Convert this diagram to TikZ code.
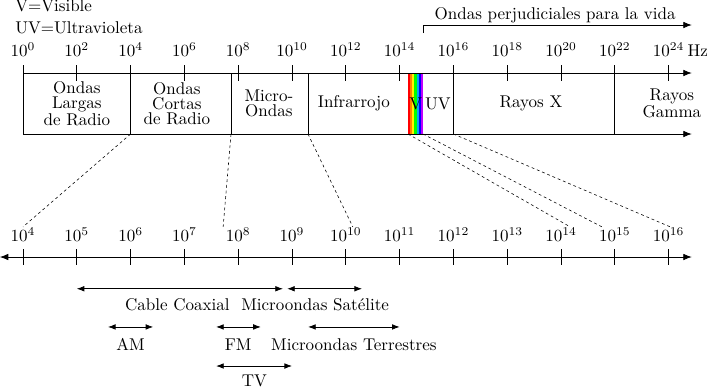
\documentclass[tikz,border=0pt]{standalone}
\usepackage{xcolor}
\usetikzlibrary{
    positioning,
    arrows.meta
}
\definecolor{violeta}{RGB}{190,0,255}
\tikzset{%
    eje/.style={%
        -{Latex[length=4.5pt,width=3.5pt]},
    },
    eje doble/.style={%
        {Latex[length=4.5pt,width=3.5pt]}-{Latex[length=4.5pt,width=3.5pt]},
    },
    rango/.style={%
        {Latex[length=4pt,width=3pt]}-{Latex[length=4pt,width=3pt]},
    },
    guia/.style={%
        dash pattern=on 1.5pt off 1.5pt,
        line width=0.3pt,
    },
    escala/.style={%
        anchor=base,
        inner sep=0pt,
        scale=0.9,
    },
    banda/.style={%
        align=center,
        inner sep=0pt,
        scale=0.9,
        font=\normalsize\linespread{0.72}\selectfont,
    },
    etiqueta/.style={%
        anchor=base,
        inner sep=0pt,
        scale=0.9,
    },
    nota/.style={%
        anchor=base west,
        inner sep=0pt,
        scale=0.9,
    },
}

\begin{document}
\begin{tikzpicture}
    \useasboundingbox (-0.4275,-5.855) rectangle (12.806,1.357);

    \node[nota] (vis) at (-0.149,1.134) {V=Visible};
    \node[nota] (ultra) at (-0.149,0.743) {UV=Ultravioleta};

    \node[etiqueta] (peligro) at (9.89,1.0) {Ondas perjudiciales para la vida};
    \coordinate (peligro-a) at (7.435,0.74);
    \coordinate (peligro-b) at (7.435,0.892);
    \coordinate (peligro-c) at (12.43,0.892);
    \draw[eje] (peligro-a) -- (peligro-b) -- (peligro-c);

    \foreach \c [count=\k from 0] in {red,orange,yellow,green,cyan,blue,violeta}
        \fill[\c] (7.156+0.04*\k,0) rectangle ++(0.04,-1.134);

    \coordinate (arriba-a) at (0,0);
    \coordinate (arriba-b) at (12.43,0);
    \coordinate (abajo-a) at (0,-1.134);
    \coordinate (abajo-b) at (12.43,-1.134);
    \draw[eje] (arriba-a) -- (arriba-b);
    \draw[eje] (abajo-a) -- (abajo-b);
    \draw (arriba-a) -- (abajo-a);
    \foreach \x in {2.0,3.866,5.297,8.0,11.0}
        \draw (\x,0) -- (\x,-1.134);

    \foreach \i in {0,...,12} {
        \pgfmathtruncatemacro{\e}{2*\i}
        \draw (\i,0.14) -- (\i,-0.14);
        \node[escala] (sup\i) at (\i,0.30) {$10^{\e}$};
    }
    \node[escala] (hz) at (12.54,0.30) {Hz};

    \node[banda] (largas) at (1.0,-0.567) {Ondas\\Largas\\de Radio};
    \node[banda] (cortas) at (2.86,-0.567) {Ondas\\Cortas\\de Radio};
    \node[banda] (micro) at (4.57,-0.567) {Micro-\\Ondas};
    \node[banda] (infra) at (6.15,-0.567) {Infrarrojo};
    \node[banda] (visible) at (7.30,-0.567) {V};
    \node[banda] (uv) at (7.71,-0.567) {UV};
    \node[banda] (rayosx) at (9.44,-0.567) {Rayos X};
    \node[banda] (gamma) at (12.06,-0.567) {Rayos\\Gamma};

    \draw[eje doble] (-0.43,-3.42) -- (12.43,-3.42);
    \foreach \i in {0,...,12} {
        \pgfmathtruncatemacro{\e}{\i+4}
        \draw (\i,-3.28) -- (\i,-3.56);
        \node[escala] (inf\i) at (\i,-3.14) {$10^{\e}$};
    }

    \foreach \a/\b in {2.0/0,3.866/3.72,5.297/6.13,7.156/10.17,7.435/10.76,8.0/12.03}
        \draw[guia] (\a,-1.134) -- (\b,-2.86);

    \coordinate (cable-a) at (1.0,-4.01);
    \coordinate (cable-b) at (4.83,-4.01);
    \draw[rango] (cable-a) -- (cable-b);
    \node[etiqueta] (cable) at (2.87,-4.405) {Cable Coaxial};

    \coordinate (sat-a) at (4.91,-4.01);
    \coordinate (sat-b) at (6.30,-4.01);
    \draw[rango] (sat-a) -- (sat-b);
    \node[etiqueta] (sat) at (5.43,-4.405) {Microondas Satélite};

    \coordinate (am-a) at (1.58,-4.72);
    \coordinate (am-b) at (2.42,-4.72);
    \draw[rango] (am-a) -- (am-b);
    \node[etiqueta] (am) at (2.0,-5.149) {AM};

    \coordinate (fm-a) at (3.59,-4.72);
    \coordinate (fm-b) at (4.42,-4.72);
    \draw[rango] (fm-a) -- (fm-b);
    \node[etiqueta] (fm) at (4.0,-5.149) {FM};

    \coordinate (terr-a) at (5.30,-4.72);
    \coordinate (terr-b) at (7.0,-4.72);
    \draw[rango] (terr-a) -- (terr-b);
    \node[etiqueta] (terr) at (6.15,-5.149) {Microondas Terrestres};

    \coordinate (tv-a) at (3.59,-5.446);
    \coordinate (tv-b) at (5.0,-5.446);
    \draw[rango] (tv-a) -- (tv-b);
    \node[etiqueta] (tv) at (4.3,-5.83) {TV};
\end{tikzpicture}
\end{document}
